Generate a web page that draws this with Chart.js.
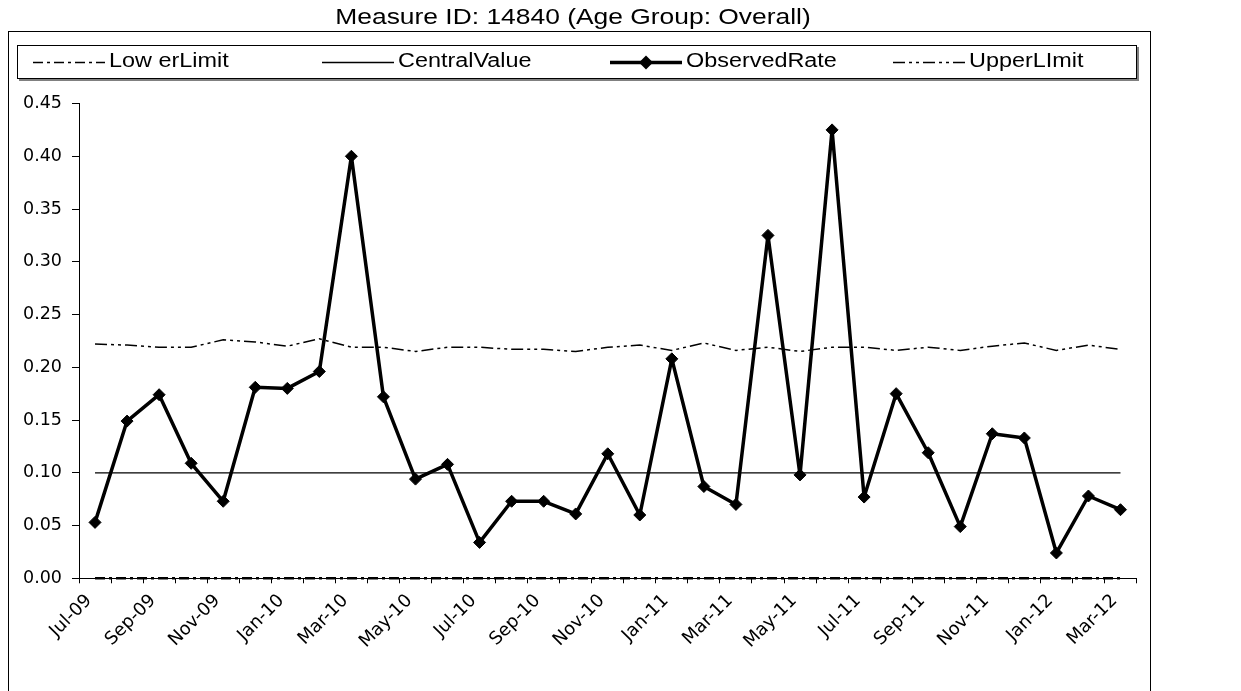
<!DOCTYPE html>
<html>
<head>
<meta charset="utf-8">
<script src="https://cdn.jsdelivr.net/npm/chart.js@4.4.0/dist/chart.umd.min.js"></script>
<style>
html,body{margin:0;padding:0;background:#fff;}
#c{display:block;}
</style>
</head>
<body>
<canvas id="c" width="1241" height="691"></canvas>
<script>
const chartTitle = 'Measure ID: 14840 (Age Group: Overall)';
const categories = ['Jul-09','Aug-09','Sep-09','Oct-09','Nov-09','Dec-09','Jan-10','Feb-10','Mar-10','Apr-10','May-10','Jun-10','Jul-10','Aug-10','Sep-10','Oct-10','Nov-10','Dec-10','Jan-11','Feb-11','Mar-11','Apr-11','May-11','Jun-11','Jul-11','Aug-11','Sep-11','Oct-11','Nov-11','Dec-11','Jan-12','Feb-12','Mar-12'];
const lowerLimit = [0,0,0,0,0,0,0,0,0,0,0,0,0,0,0,0,0,0,0,0,0,0,0,0,0,0,0,0,0,0,0,0,0];
const centralValue = [0.10,0.10,0.10,0.10,0.10,0.10,0.10,0.10,0.10,0.10,0.10,0.10,0.10,0.10,0.10,0.10,0.10,0.10,0.10,0.10,0.10,0.10,0.10,0.10,0.10,0.10,0.10,0.10,0.10,0.10,0.10,0.10,0.10];
const observedRate = [0.053,0.149,0.174,0.109,0.073,0.181,0.180,0.196,0.400,0.172,0.094,0.108,0.034,0.073,0.073,0.061,0.118,0.060,0.208,0.087,0.070,0.325,0.098,0.425,0.077,0.175,0.119,0.049,0.137,0.133,0.024,0.078,0.065];
const upperLimit = [0.222,0.221,0.219,0.219,0.226,0.224,0.220,0.227,0.219,0.219,0.215,0.219,0.219,0.217,0.217,0.215,0.219,0.221,0.216,0.223,0.216,0.219,0.215,0.219,0.219,0.216,0.219,0.216,0.220,0.223,0.216,0.221,0.217];
const legendLabels = ['Low erLimit','CentralValue','ObservedRate','UpperLImit'];
const yMin = 0, yMax = 0.45, yStep = 0.05;

const FONT = '"Liberation Sans", Arial, sans-serif';
const TICKFONT = '"DejaVu Sans", "Liberation Sans", sans-serif';
const SX = 1.2;

function stretchText(ctx, text, x, y, align, font) {
  ctx.save();
  ctx.font = font;
  ctx.textAlign = align;
  ctx.textBaseline = 'middle';
  ctx.fillStyle = '#000';
  ctx.translate(x, y);
  ctx.scale(SX, 1);
  ctx.fillText(text, 0, 0);
  ctx.restore();
}

const decorPlugin = {
  id: 'decor',
  beforeDraw(chart) {
    const ctx = chart.ctx;
    ctx.save();
    ctx.fillStyle = '#fff';
    ctx.fillRect(0, 0, chart.width, chart.height);
    ctx.restore();
  },
  afterDraw(chart) {
    const ctx = chart.ctx;
    ctx.save();
    // outer frame
    ctx.strokeStyle = '#000';
    ctx.lineWidth = 1;
    ctx.strokeRect(8.5, 31.5, 1142, 700);
    // title
    stretchText(ctx, chartTitle, 573, 18, 'center', '22px ' + FONT);
    // legend box
    ctx.fillStyle = '#808080';
    ctx.fillRect(19, 79, 1119, 2);
    ctx.fillRect(1137, 47, 2, 34);
    ctx.fillStyle = '#fff';
    ctx.fillRect(17, 45, 1120, 34);
    ctx.strokeStyle = '#000';
    ctx.lineWidth = 1;
    ctx.strokeRect(17.5, 45.5, 1119, 33);
    // legend items
    const starts = [33, 322, 610, 893];
    const cy = 62;
    chart.data.datasets.forEach((ds, k) => {
      const x0 = starts[k];
      const dashed = ds.borderDash && ds.borderDash.length;
      ctx.save();
      ctx.strokeStyle = ds.borderColor;
      ctx.lineWidth = dashed ? 1.5 : Math.max(ds.borderWidth, 1.2);
      ctx.setLineDash(ds.borderDash || []);
      ctx.beginPath();
      ctx.moveTo(x0, cy + 0.5);
      ctx.lineTo(x0 + 72, cy + 0.5);
      ctx.stroke();
      ctx.setLineDash([]);
      if (ds.pointRadius > 0) {
        const r = ds.pointRadius + 1;
        ctx.fillStyle = ds.pointBackgroundColor;
        ctx.beginPath();
        ctx.moveTo(x0 + 36, cy + 0.5 - r);
        ctx.lineTo(x0 + 36 + r, cy + 0.5);
        ctx.lineTo(x0 + 36, cy + 0.5 + r);
        ctx.lineTo(x0 + 36 - r, cy + 0.5);
        ctx.closePath();
        ctx.fill();
      }
      ctx.restore();
      stretchText(ctx, ds.label, x0 + 76, cy, 'left', '19.5px ' + FONT);
    });
    ctx.restore();
  }
};

new Chart(document.getElementById('c'), {
  type: 'line',
  data: {
    labels: categories,
    datasets: [
      { label: legendLabels[0], data: lowerLimit, borderColor: '#000', borderWidth: 2.5, borderDash: [10, 4, 3, 4], pointRadius: 0, fill: false, tension: 0, clip: false, order: 3 },
      { label: legendLabels[1], data: centralValue, borderColor: '#000', borderWidth: 1.3, borderDash: [], pointRadius: 0, fill: false, tension: 0, order: 2 },
      { label: legendLabels[2], data: observedRate, borderColor: '#000', borderWidth: 3.5, borderDash: [], borderJoinStyle: 'round', borderCapStyle: 'round', pointRadius: 6, pointStyle: 'rectRot', pointBackgroundColor: '#000', pointBorderColor: '#000', pointBorderWidth: 1, fill: false, tension: 0, order: 0 },
      { label: legendLabels[3], data: upperLimit, borderColor: '#000', borderWidth: 1.5, borderDash: [12, 4, 3, 4, 3, 4], pointRadius: 0, fill: false, tension: 0, order: 1 }
    ]
  },
  options: {
    responsive: false,
    animation: false,
    devicePixelRatio: 1,
    layout: { padding: { top: 103.5, left: 0, right: 104.5, bottom: 0 } },
    plugins: {
      legend: { display: false },
      title: { display: false },
      tooltip: { enabled: false }
    },
    scales: {
      x: {
        type: 'category',
        offset: true,
        grid: { display: true, offset: true, drawOnChartArea: false, drawTicks: true, tickLength: 5, color: '#000', lineWidth: 1 },
        border: { display: true, color: '#000', width: 1 },
        ticks: {
          autoSkip: false,
          maxRotation: 45,
          minRotation: 45,
          padding: 7,
          labelOffset: -6,
          color: '#000',
          font: { family: TICKFONT, size: 18 },
          callback: function(value, index) { return index % 2 === 0 ? categories[index] : ''; }
        },
        afterFit(scale) { scale.height = 112.7; }
      },
      y: {
        min: yMin,
        max: yMax,
        grid: { display: true, drawOnChartArea: false, drawTicks: true, tickLength: 7, color: '#000', lineWidth: 1 },
        border: { display: true, color: '#000', width: 1 },
        ticks: {
          stepSize: yStep,
          padding: 10,
          color: '#000',
          font: { family: TICKFONT, size: 17.5 },
          callback: function(v) { return Number(v).toFixed(2); }
        },
        afterFit(scale) { scale.width = 79; }
      }
    }
  },
  plugins: [decorPlugin]
});
</script>
</body>
</html>
